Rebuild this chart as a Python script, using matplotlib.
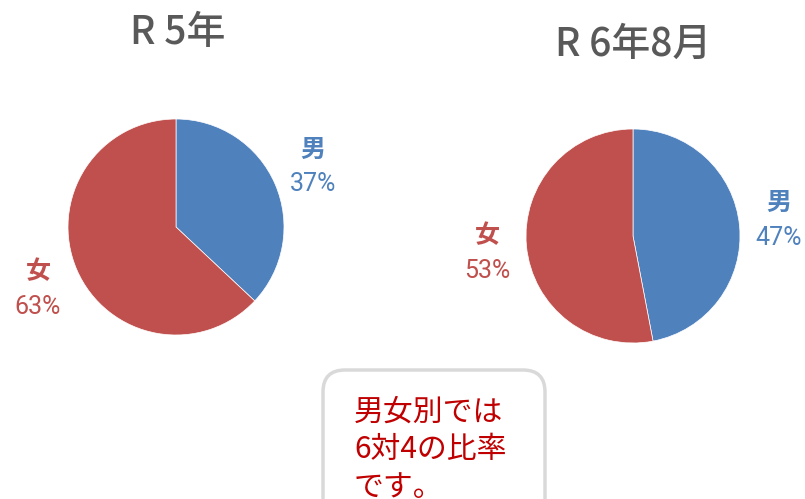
import matplotlib

matplotlib.use("Agg")
import matplotlib.pyplot as plt
from matplotlib.patches import FancyBboxPatch

plt.rcParams["font.family"] = ["Noto Sans CJK JP", "DejaVu Sans"]

W, H = 805, 499

titles = ["R 5年", "R 6年8月"]
categories = ["男", "女"]
shares_r5 = [37, 63]
shares_r6 = [47, 53]
note_lines = ["男女別では", "6対4の比率", "です。"]

BLUE = "#4F81BD"
RED = "#C0504D"
GREY = "#595959"
NOTE = "#C00000"

fig = plt.figure(figsize=(W / 100, H / 100), dpi=100)
ax = fig.add_axes([0, 0, 1, 1])


def py(y):
    # pixel row (top origin) -> data y
    return H - y


pies = [
    (shares_r5, (176, 227), 108, titles[0], (178, 33),
     [(313, 150, 184), (38, 272, 307)]),
    (shares_r6, (633, 236), 107, titles[1], (633, 45),
     [(779, 203, 238), (487, 236, 271)]),
]

for shares, (cx, cy), r, title, (tx, ty), labels in pies:
    ax.pie(shares, colors=[BLUE, RED], startangle=90, counterclock=False,
           center=(cx, py(cy)), radius=r,
           wedgeprops=dict(linewidth=0.5, edgecolor="white"))
    ax.text(tx, py(ty), title, ha="center", va="center", fontsize=28,
            color=GREY, fontweight="medium")
    for (lx, ly1, ly2), cat, val, col in zip(labels, categories, shares, [BLUE, RED]):
        ax.text(lx, py(ly1), cat, ha="center", va="center", fontsize=18,
                color=col, fontweight="bold")
        ax.text(lx, py(ly2), f"{val}%", ha="center", va="center", fontsize=18,
                color=col, family=["Roboto", "Noto Sans CJK JP"])

box = FancyBboxPatch((323, py(540)), 222, 540 - 370,
                     boxstyle="round,pad=0,rounding_size=22",
                     facecolor="white", edgecolor="#D9D9D9", linewidth=2.5)
ax.add_patch(box)
for i, line in enumerate(note_lines):
    ax.text(354, py(412 + 37.5 * i), line, ha="left", va="center",
            fontsize=21.5, color=NOTE)

ax.set_xlim(0, W)
ax.set_ylim(0, H)
ax.set_aspect("auto")
ax.axis("off")

fig.savefig("out.png", dpi=100)
plt.close(fig)
